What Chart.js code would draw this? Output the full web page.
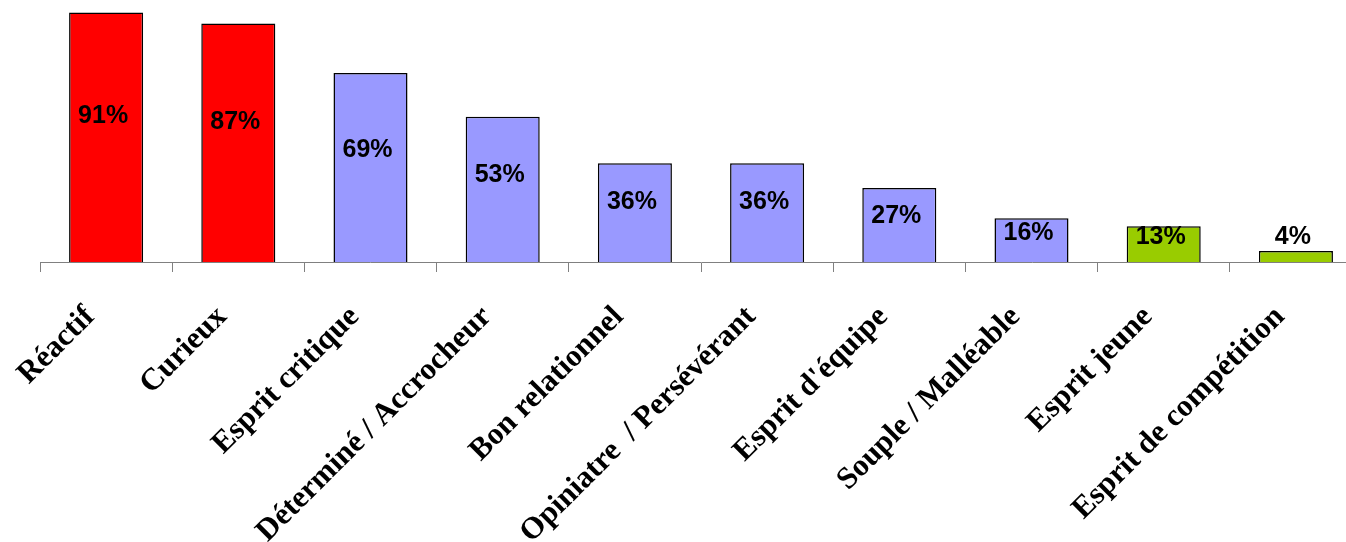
<!DOCTYPE html>
<html>
<head>
<meta charset="utf-8">
<script src="https://cdn.jsdelivr.net/npm/chart.js@4/dist/chart.umd.min.js"></script>
<style>
    html, body { margin: 0; padding: 0; background: #fff; overflow: hidden; }
    #wrap { width: 1362px; height: 542px; }
</style>
</head>
<body>
<div id="wrap"><canvas id="myChart"></canvas></div>
<script>
let qualites = [
    "Réactif",
    "Curieux",
    "Esprit critique",
    "Déterminé / Accrocheur",
    "Bon relationnel",
    "Opiniatre  / Persévérant",
    "Esprit d'équipe",
    "Souple / Malléable",
    "Esprit jeune",
    "Esprit de compétition"
];
let pourcentages = [91, 87, 69, 53, 36, 36, 27, 16, 13, 4];
let couleurs = [
    "#FF0000", "#FF0000",
    "#9999FF", "#9999FF", "#9999FF", "#9999FF", "#9999FF", "#9999FF",
    "#99CC00", "#99CC00"
];

// labels "91%" etc. drawn inside the bars
const valeurs = {
    id: "valeurs",
    afterDatasetsDraw(chart) {
        let ctx = chart.ctx;
        let meta = chart.getDatasetMeta(0);
        ctx.save();
        ctx.font = "bold 25px 'Liberation Sans', Arial, sans-serif";
        ctx.fillStyle = "#000";
        ctx.textAlign = "center";
        ctx.textBaseline = "middle";
        meta.data.forEach((bar, i) => {
            let h = bar.base - bar.y;
            let y = bar.y + 0.43 * h - 4;
            y = Math.min(y, bar.base - 25);
            ctx.fillText(pourcentages[i] + "%", bar.x - 3, y);
        });
        ctx.restore();
    }
};

var ctx = document.getElementById("myChart").getContext("2d");
var myChart = new Chart(ctx, {
    type: "bar",
    data: {
        labels: qualites,
        datasets: [{
            data: pourcentages,
            backgroundColor: couleurs,
            borderColor: "#000",
            borderWidth: 1.5,
            borderSkipped: "bottom",
            barPercentage: 0.56,
            categoryPercentage: 1
        }]
    },
    options: {
        responsive: true,
        maintainAspectRatio: false,
        animation: false,
        layout: { padding: { left: 40, right: 0, top: 0, bottom: 0 } },
        plugins: {
            legend: { display: false },
            tooltip: { enabled: false }
        },
        scales: {
            y: {
                display: false,
                min: 0,
                max: 95.6
            },
            x: {
                afterFit: (scale) => { scale.height = 280; },
                border: { display: true, color: "#808080", width: 1 },
                grid: {
                    offset: true,
                    drawOnChartArea: false,
                    drawTicks: true,
                    tickLength: 10,
                    color: "#808080"
                },
                ticks: {
                    autoSkip: false,
                    minRotation: 45,
                    maxRotation: 45,
                    padding: 27,
                    labelOffset: -16,
                    color: "#000",
                    font: { family: "'Liberation Serif', 'Times New Roman', serif", size: 31, weight: "bold" }
                }
            }
        }
    },
    plugins: [valeurs]
});
</script>
</body>
</html>
